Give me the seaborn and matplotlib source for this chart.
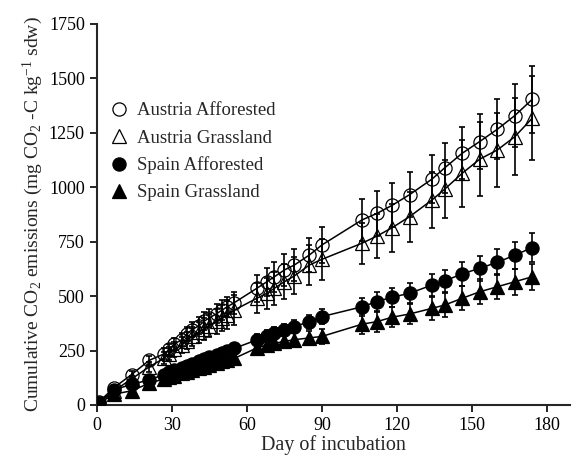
import pandas as pd
import matplotlib
matplotlib.use("Agg")
import matplotlib.pyplot as plt
import seaborn as sns
import numpy as np

# incubation days (same for every treatment)
days = [1, 7, 14, 21, 27, 29, 31, 34, 36, 38, 41, 43, 45, 48, 50, 52, 55,
        64, 68, 71, 75, 79, 85, 90,
        106, 112, 118, 125, 134, 139, 146, 153, 160, 167, 174]

austria_aff = [15, 80, 140, 205, 235, 255, 280, 300, 325, 345, 365, 385, 400, 420, 435, 450, 470,
               536, 566, 589, 620, 643, 689, 735,
               850, 880, 917, 966, 1038, 1089, 1156, 1210, 1266, 1329, 1404]
austria_aff_err = [3, 10, 15, 20, 25, 25, 28, 30, 32, 35, 38, 40, 42, 45, 45, 48, 50,
                   61, 65, 68, 72, 75, 80, 84,
                   95, 104, 101, 103, 110, 116, 120, 127, 138, 145, 153]

austria_gra = [10, 65, 120, 175, 215, 235, 255, 275, 295, 315, 335, 350, 365, 385, 400, 415, 436,
               490, 513, 536, 566, 593, 643, 669,
               743, 776, 814, 865, 942, 991, 1064, 1129, 1171, 1232, 1317]
austria_gra_err = [3, 10, 15, 22, 28, 30, 33, 36, 40, 45, 48, 50, 55, 58, 60, 65, 69,
                   69, 72, 76, 80, 85, 90, 95,
                   95, 99, 110, 115, 130, 133, 153, 169, 168, 176, 192]

spain_aff = [10, 70, 95, 115, 140, 150, 160, 170, 180, 190, 200, 210, 220, 230, 240, 250, 260,
             299, 318, 330, 344, 360, 383, 406,
             451, 475, 495, 513, 551, 570, 602, 628, 655, 688, 723]
spain_aff_err = [2, 6, 8, 10, 12, 12, 13, 14, 15, 16, 17, 18, 19, 20, 20, 21, 22,
                 25, 27, 28, 29, 30, 32, 34,
                 40, 42, 44, 45, 49, 52, 55, 58, 60, 62, 65]

spain_gra = [8, 50, 65, 100, 120, 128, 135, 145, 152, 160, 168, 176, 184, 192, 200, 207, 214,
             262, 275, 283, 292, 300, 308, 315,
             371, 383, 403, 418, 444, 459, 490, 520, 543, 566, 589]
spain_gra_err = [2, 6, 8, 10, 12, 12, 13, 14, 15, 16, 17, 18, 19, 20, 20, 21, 22,
                 25, 27, 28, 29, 30, 32, 34,
                 45, 46, 47, 48, 54, 55, 56, 57, 58, 59, 60]

labels = ["Austria Afforested", "Austria Grassland", "Spain Afforested", "Spain Grassland"]
values = [austria_aff, austria_gra, spain_aff, spain_gra]
errors = [austria_aff_err, austria_gra_err, spain_aff_err, spain_gra_err]

df = pd.concat([pd.DataFrame({"day": days, "co2": v, "err": e, "site": lab})
                for lab, v, e in zip(labels, values, errors)], ignore_index=True)

sns.set_style("ticks")
plt.rcParams['font.family'] = ['Liberation Serif', 'DejaVu Serif']
plt.rcParams['mathtext.fontset'] = 'custom'
plt.rcParams['mathtext.rm'] = 'Liberation Serif'
plt.rcParams['mathtext.it'] = 'Liberation Serif:italic'

fig = plt.figure(figsize=(5.75, 4.61), dpi=100)
ax = fig.add_axes([0.168, 0.1215, 0.823, 0.8265])

styles = {"Austria Afforested": ("o", "none"),
          "Austria Grassland": ("^", "none"),
          "Spain Afforested": ("o", "black"),
          "Spain Grassland": ("^", "black")}

for lab in labels:
    sub = df[df.site == lab]
    mk, fc = styles[lab]
    ax.errorbar(sub.day, sub.co2, yerr=sub.err, fmt="none", ecolor="black",
                elinewidth=1.2, capsize=2.5, capthick=1.2, zorder=2)
    sns.lineplot(x="day", y="co2", data=sub, ax=ax, color="black", lw=1.1,
                 marker=mk, markersize=9.5 if mk == "o" else 10.5,
                 markerfacecolor=fc, markeredgecolor="black", markeredgewidth=0.9,
                 label=lab, zorder=3)

ax.set_xlim(0, 189)
ax.set_ylim(0, 1750)
ax.set_xticks(np.arange(0, 181, 30))
ax.set_yticks(np.arange(0, 1751, 250))
ax.tick_params(direction="out", length=5, width=1.2, labelsize=13, colors="black")
for s in ["left", "bottom"]:
    ax.spines[s].set_linewidth(1.5)
sns.despine(ax=ax)

ax.set_xlabel("Day of incubation", fontsize=14.5, labelpad=1)
ax.set_ylabel("Cumulative CO$_2$ emissions (mg CO$_2$ -C kg$^{-1}$ sdw)", fontsize=14, labelpad=3)

leg = ax.legend(loc="upper left", bbox_to_anchor=(0.19, 0.778), bbox_transform=fig.transFigure,
                frameon=False, fontsize=13.5, handlelength=1.0, handletextpad=0.5,
                labelspacing=0.53, borderpad=0, borderaxespad=0)
for ln in leg.get_lines():
    ln.set_linestyle("none")

plt.savefig("out.png", dpi=100)
